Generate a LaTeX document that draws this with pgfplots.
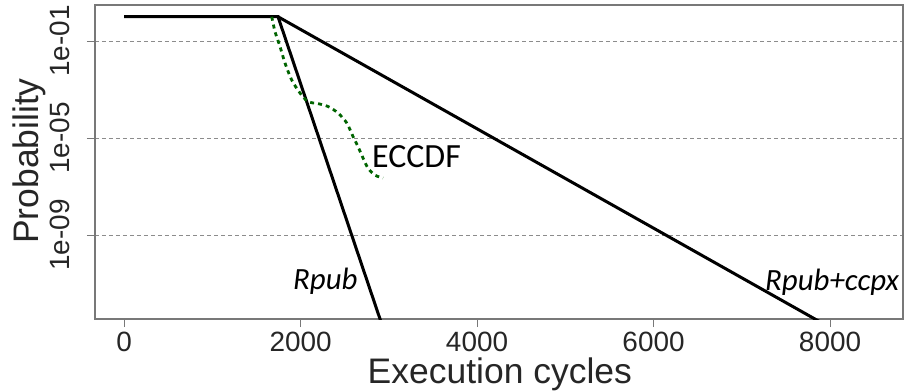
\documentclass[border=0pt]{standalone}
\usepackage{fontspec}
\setmainfont{Liberation Sans}
\newfontfamily\calibri{Carlito}
\usepackage{pgfplots}
\pgfplotsset{compat=1.18}
\definecolor{eccdfgreen}{RGB}{0,100,0}
\definecolor{boxgray}{RGB}{120,120,120}
\definecolor{gridgray}{RGB}{140,140,140}

\begin{document}
\begin{tikzpicture}
\begin{axis}[
  at={(0,0)}, anchor=south west,
  scale only axis,
  width=808bp, height=314bp,
  xmin=-329, xmax=8827,
  ymode=log,
  ymin=3.47e-13, ymax=3.05,
  xtick={0,2000,4000,6000,8000},
  xticklabels={0,2000,4000,6000,8000},
  ytick={1e-1,1e-5,1e-9},
  yticklabels={1e-01,1e-05,1e-09},
  minor ytick={},
  tick pos=left,
  tick align=outside,
  major tick length=8bp,
  tick style={boxgray, line width=1bp},
  axis line style={boxgray, line width=1.3bp},
  ymajorgrids,
  major grid style={gridgray, dash pattern=on 4bp off 3bp, line width=0.9bp},
  ticklabel style={font=\fontsize{28}{30}\selectfont, text=black!85},
  xticklabel style={anchor=base, yshift=-24bp},
  yticklabel style={xshift=-17bp, rotate=90, anchor=base},
  every axis x label/.style={at={(axis description cs:0.501,0)}, anchor=base, yshift=-64bp},
  every axis y label/.style={at={(axis description cs:0,0.503)}, xshift=-56.5bp, rotate=90, anchor=base},
  label style={font=\fontsize{35.6}{38}\selectfont, text=black!85},
  xlabel={Execution cycles},
  ylabel={Probability},
  clip=true,
]
% Rpub: flat at 1, then a steep decay
\addplot[black, line width=3bp] coordinates {
  (0,1) (1745,1) (3000,2.95e-14)
};
% Rpub+ccpx: same knee, slower decay
\addplot[black, line width=3bp] coordinates {
  (1745,1) (8000,1.55e-13)
};
% measured ECCDF
\addplot[eccdfgreen, line width=2.8bp, dash pattern=on 4bp off 4bp, smooth, tension=0.5] coordinates {
  (1674,1) (1711,0.242) (1768,0.0582) (1824,0.0124) (1900,0.00247)
  (1994,7.2e-4) (2085,3.14e-4) (2184,2.69e-4) (2312,2.0e-4)
  (2425,1.07e-4) (2524,4.17e-5) (2595,1.15e-5) (2652,4.37e-6)
  (2708,1.51e-6) (2765,5.75e-7) (2844,2.95e-7) (2935,2.24e-7)
};
\node[anchor=base west, inner sep=0pt, font=\calibri\fontsize{34}{36}\selectfont]
  at (axis cs:2810,6.37e-7) {ECCDF};
\node[anchor=base west, inner sep=0pt, font=\calibri\itshape\fontsize{31}{33}\selectfont]
  at (axis cs:1915,5.89e-12) {Rpub};
\node[anchor=base west, inner sep=0pt, font=\calibri\itshape\fontsize{31}{33}\selectfont]
  at (axis cs:7263,5.37e-12) {Rpub+ccpx};
\end{axis}
\pgfresetboundingbox
\path (-95bp,-73bp) rectangle (810bp,319bp);
\end{tikzpicture}
\end{document}
